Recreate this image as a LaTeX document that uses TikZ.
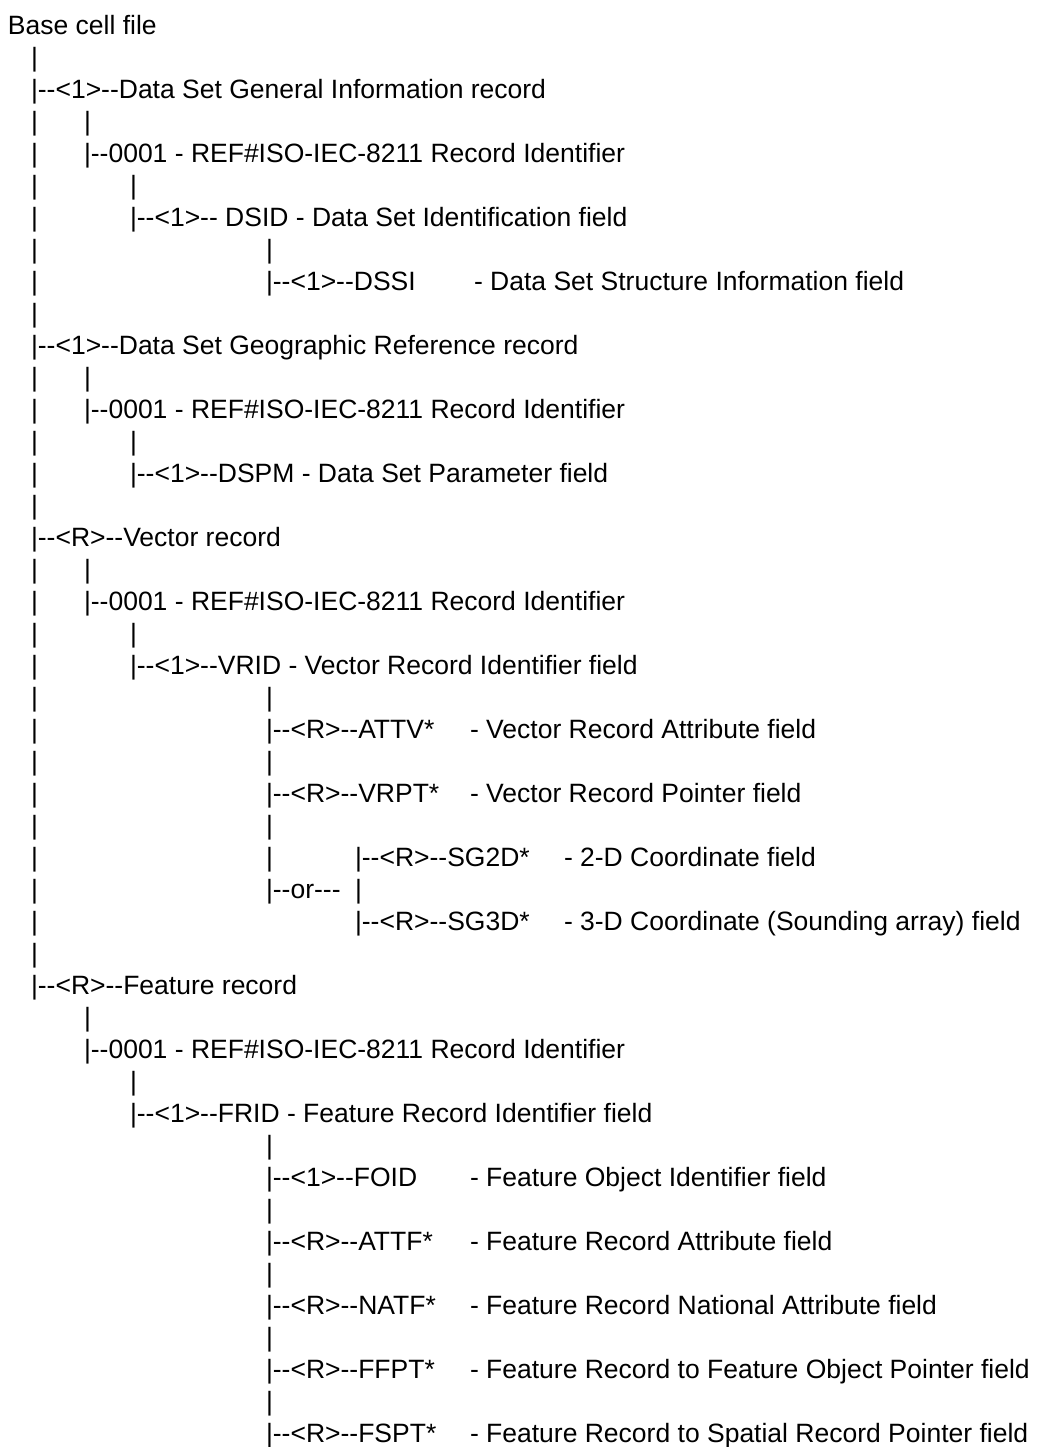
\documentclass[tikz,border=0pt]{standalone}
\usepackage{fontspec}
\setmainfont{Liberation Sans}[Ligatures={TeXOff,CommonOff}]
\begin{document}
\begin{tikzpicture}[x=1pt,y=-1pt,
  tx/.style={anchor=base west, inner sep=0pt, outer sep=0pt, font=\fontsize{26.5}{32}\selectfont}]
\fill[white] (0,0) rectangle (1037,1447);
\useasboundingbox (0,0) rectangle (1037,1447);
% line 1
\node[tx] (root) at (8,34.7) {Base cell file};
% line 2
\node[tx] (p2a) at (31,66.7) {|};
% General Information record
\node[tx] (gir) at (31,98.7) {|--<1>--Data Set General Information record};
\node[tx] (p4a) at (31,130.7) {|};
\node[tx] (p4b) at (84,130.7) {|};
\node[tx] (p5a) at (31,162.7) {|};
\node[tx] (gid) at (84,162.7) {|--0001 - REF\#ISO-IEC-8211 Record Identifier};
\node[tx] (p6a) at (31,194.7) {|};
\node[tx] (p6b) at (130,194.7) {|};
\node[tx] (p7a) at (31,226.7) {|};
\node[tx] (dsid) at (130,226.7) {|--<1>-- DSID - Data Set Identification field};
\node[tx] (p8a) at (31,258.7) {|};
\node[tx] (p8b) at (266,258.7) {|};
\node[tx] (p9a) at (31,290.7) {|};
\node[tx] (dssi) at (266,290.7) {|--<1>--DSSI};
\node[tx] (dssid) at (474,290.7) {- Data Set Structure Information field};
\node[tx] (p10a) at (31,322.7) {|};
% Geographic Reference record
\node[tx] (grr) at (31,354.7) {|--<1>--Data Set Geographic Reference record};
\node[tx] (p12a) at (31,386.7) {|};
\node[tx] (p12b) at (84,386.7) {|};
\node[tx] (p13a) at (31,418.7) {|};
\node[tx] (grid) at (84,418.7) {|--0001 - REF\#ISO-IEC-8211 Record Identifier};
\node[tx] (p14a) at (31,450.7) {|};
\node[tx] (p14b) at (130,450.7) {|};
\node[tx] (p15a) at (31,482.7) {|};
\node[tx] (dspm) at (130,482.7) {|--<1>--DSPM - Data Set Parameter field};
\node[tx] (p16a) at (31,514.7) {|};
% Vector record
\node[tx] (vr) at (31,546.7) {|--<R>--Vector record};
\node[tx] (p18a) at (31,578.7) {|};
\node[tx] (p18b) at (84,578.7) {|};
\node[tx] (p19a) at (31,610.7) {|};
\node[tx] (vrid0) at (84,610.7) {|--0001 - REF\#ISO-IEC-8211 Record Identifier};
\node[tx] (p20a) at (31,642.7) {|};
\node[tx] (p20b) at (130,642.7) {|};
\node[tx] (p21a) at (31,674.7) {|};
\node[tx] (vrid) at (130,674.7) {|--<1>--VRID - Vector Record Identifier field};
\node[tx] (p22a) at (31,706.7) {|};
\node[tx] (p22b) at (266,706.7) {|};
\node[tx] (p23a) at (31,738.7) {|};
\node[tx] (attv) at (266,738.7) {|--<R>--ATTV*};
\node[tx] (attvd) at (470,738.7) {- Vector Record Attribute field};
\node[tx] (p24a) at (31,770.7) {|};
\node[tx] (p24b) at (266,770.7) {|};
\node[tx] (p25a) at (31,802.7) {|};
\node[tx] (vrpt) at (266,802.7) {|--<R>--VRPT*};
\node[tx] (vrptd) at (470,802.7) {- Vector Record Pointer field};
\node[tx] (p26a) at (31,834.7) {|};
\node[tx] (p26b) at (266,834.7) {|};
\node[tx] (p27a) at (31,866.7) {|};
\node[tx] (p27b) at (266,866.7) {|};
\node[tx] (sg2d) at (355,866.7) {|--<R>--SG2D*};
\node[tx] (sg2dd) at (564,866.7) {- 2-D Coordinate field};
\node[tx] (p28a) at (31,898.7) {|};
\node[tx] (or) at (266,898.7) {|--or---};
\node[tx] (p28c) at (355,898.7) {|};
\node[tx] (p29a) at (31,930.7) {|};
\node[tx] (sg3d) at (355,930.7) {|--<R>--SG3D*};
\node[tx] (sg3dd) at (564,930.7) {- 3-D Coordinate (Sounding array) field};
\node[tx] (p30a) at (31,962.7) {|};
% Feature record
\node[tx] (fr) at (31,994.7) {|--<R>--Feature record};
\node[tx] (p32b) at (84,1026.7) {|};
\node[tx] (frid0) at (84,1058.7) {|--0001 - REF\#ISO-IEC-8211 Record Identifier};
\node[tx] (p34b) at (130,1090.7) {|};
\node[tx] (frid) at (130,1122.7) {|--<1>--FRID - Feature Record Identifier field};
\node[tx] (p36b) at (266,1154.7) {|};
\node[tx] (foid) at (266,1186.7) {|--<1>--FOID};
\node[tx] (foidd) at (470,1186.7) {- Feature Object Identifier field};
\node[tx] (p38b) at (266,1218.7) {|};
\node[tx] (attf) at (266,1250.7) {|--<R>--ATTF*};
\node[tx] (attfd) at (470,1250.7) {- Feature Record Attribute field};
\node[tx] (p40b) at (266,1282.7) {|};
\node[tx] (natf) at (266,1314.7) {|--<R>--NATF*};
\node[tx] (natfd) at (470,1314.7) {- Feature Record National Attribute field};
\node[tx] (p42b) at (266,1346.7) {|};
\node[tx] (ffpt) at (266,1378.7) {|--<R>--FFPT*};
\node[tx] (ffptd) at (470,1378.7) {- Feature Record to Feature Object Pointer field};
\node[tx] (p44b) at (266,1410.7) {|};
\node[tx] (fspt) at (266,1442.7) {|--<R>--FSPT*};
\node[tx] (fsptd) at (470,1442.7) {- Feature Record to Spatial Record Pointer field};
\end{tikzpicture}
\end{document}
